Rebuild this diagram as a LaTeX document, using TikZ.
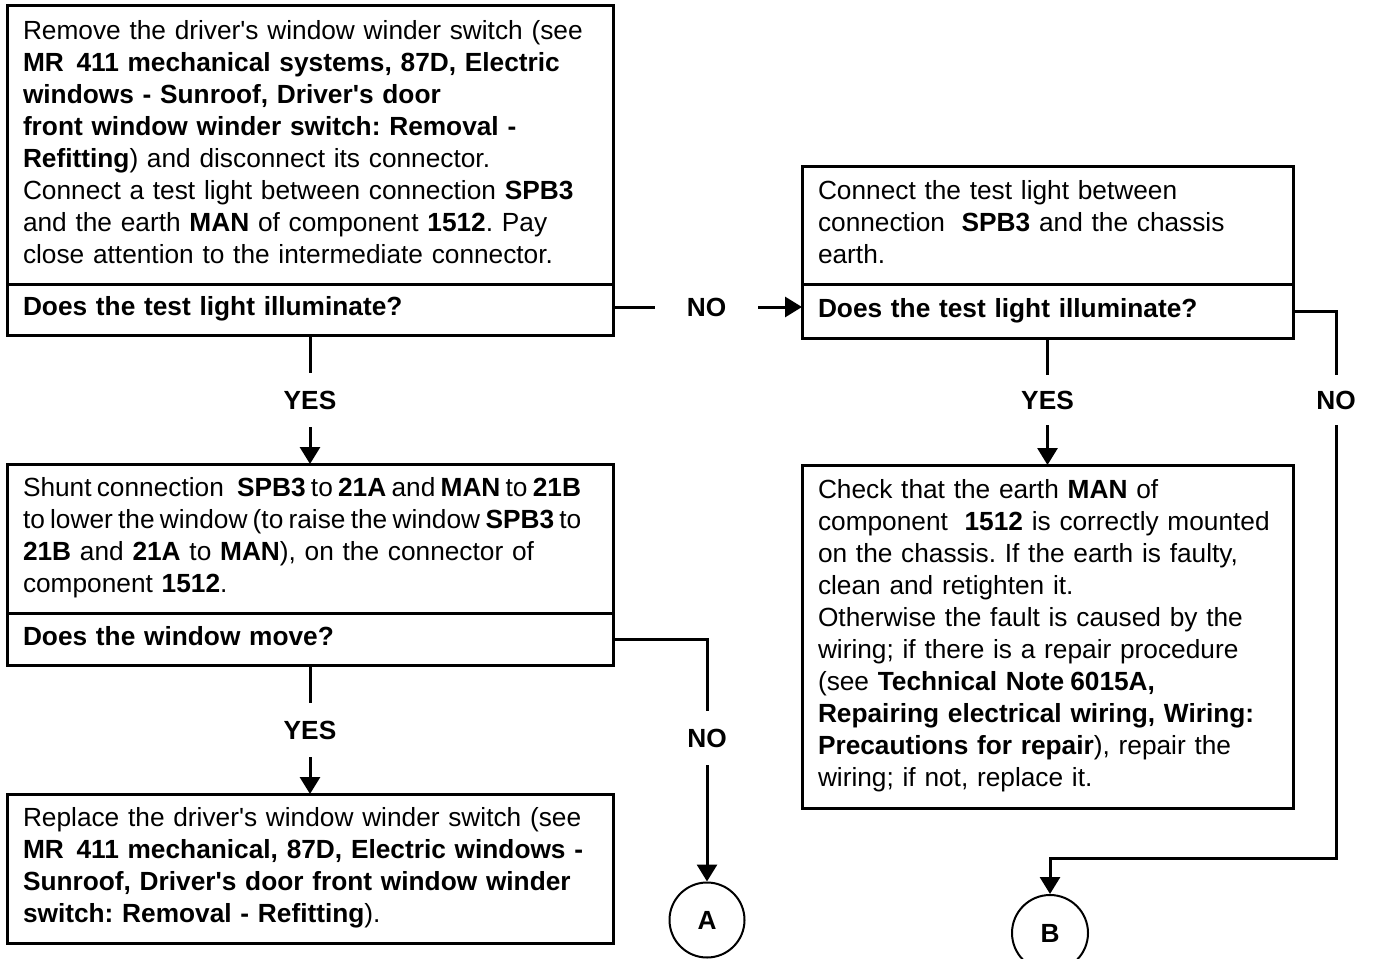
\documentclass[tikz,border=0pt]{standalone}
\usepackage{fontspec}
\setmainfont{Liberation Sans}
\usetikzlibrary{arrows.meta}
\newcommand{\qs}{\textquotesingle}
% a line set with close word spacing, kept unbroken
\newcommand{\tightline}[1]{\mbox{\spaceskip=0.2em\relax #1}}
\begin{document}
\frenchspacing
\begin{tikzpicture}[x=0.75pt,y=-0.75pt,
  txt/.style={font=\fontsize{19.7}{24}\selectfont},
  box/.style={txt, draw, line width=2.25pt, outer sep=0pt, anchor=north west,
    align=left, inner xsep=12pt, inner ysep=0pt},
  wide/.style={text width=430.5pt},
  narrow/.style={text width=344.25pt},
  lbl/.style={font=\fontsize{19.7}{24}\selectfont\bfseries, inner sep=0pt},
  conn/.style={line width=2.25pt},
  arr/.style={conn, -{Triangle[length=12.75pt,width=15pt]}},
  tag/.style={draw, circle, line width=1.5pt, inner sep=0pt,
    font=\fontsize{19.7}{24}\selectfont\bfseries}]
\useasboundingbox (0,0) rectangle (1373,959);

% left column: first test
\node[box, wide, minimum height=208.5pt] (b1) at (7,6) {\strut Remove the driver\qs s window winder switch (see\\
\textbf{MR\hspace{0.15em} 411 mechanical systems, 87D, Electric}\\
\textbf{windows - Sunroof, Driver\qs s door}\\
\textbf{front window winder switch: Removal -}\\
\textbf{Refitting}) and disconnect its connector.\\
Connect a test light between connection \textbf{SPB3}\\
and the earth \textbf{MAN} of component \textbf{1512}. Pay\\
close attention to the intermediate connector.\strut};
\node[box, wide, minimum height=38.25pt] (q1) at (b1.south west) {\strut\textbf{Does the test light illuminate?}};

% left column: shunt test
\node[box, wide, minimum height=111.75pt] (b4) at (7,464) {\strut\tightline{Shunt connection\hspace{0.3em} \textbf{SPB3} to \textbf{21A} and \textbf{MAN} to \textbf{21B}}\\
\tightline{to lower the window (to raise the window \textbf{SPB3} to}\\
\textbf{21B} and \textbf{21A} to \textbf{MAN}), on the connector of\\
component \textbf{1512}.\strut};
\node[box, wide, minimum height=39pt] (q4) at (b4.south west) {\strut\textbf{Does the window move?}};

% left column: replacement
\node[box, wide, minimum height=111.75pt] (b5) at (7,794) {\strut Replace the driver\qs s window winder switch (see\\
\textbf{MR\hspace{0.15em} 411 mechanical, 87D, Electric windows -}\\
\textbf{Sunroof, Driver\qs s door front window winder}\\
\textbf{switch: Removal - Refitting}).\strut};

% right column: chassis earth test
\node[box, narrow, minimum height=87.75pt] (b2) at (802,167) {\strut Connect the test light between\\
connection\hspace{0.3em} \textbf{SPB3} and the chassis\\
earth.\strut};
\node[box, narrow, minimum height=40.5pt] (q2) at (b2.south west) {\strut\textbf{Does the test light illuminate?}};

% right column: earth check
\node[box, narrow, minimum height=257.25pt] (b3) at (802,465) {\strut Check that the earth \textbf{MAN} of\\
component\hspace{0.3em} \textbf{1512} is correctly mounted\\
on the chassis. If the earth is faulty,\\
clean and retighten it.\\
Otherwise the fault is caused by the\\
wiring; if there is a repair procedure\\
(see \textbf{Technical Note\hspace{-0.1em} 6015A,}\\
\textbf{Repairing electrical wiring, Wiring:}\\
\textbf{Precautions for repair}), repair the\\
wiring; if not, replace it.\strut};

% branch labels
\node[lbl, minimum height=40.5pt] (y1) at (310,400) {YES};
\node[lbl, minimum width=77.25pt] (n1) at (706.5,307) {NO};
\node[lbl, minimum height=37.5pt] (y2) at (1047.5,400) {YES};
\node[lbl, minimum height=37.5pt] (n2) at (1336,400) {NO};
\node[lbl, minimum height=40.5pt] (y3) at (310,730) {YES};
\node[lbl, minimum height=40.5pt] (n3) at (707,738) {NO};

% off-page connectors
\node[tag, minimum size=56.25pt] (A) at (707,920) {A};
\node[tag, minimum size=57pt] (B) at (1050,933) {B};
\coordinate (turnB) at (1336,858);

% connectors
\draw[conn] (q1.south) -- (y1.north);
\draw[arr] (y1.south) -- (b4.north);
\draw[conn] (q1.east |- n1) -- (n1.west);
\draw[arr] (n1.east) -- (n1.east -| q2.west);
\draw[conn] (q2.south) -- (y2.north);
\draw[arr] (y2.south) -- (b3.north);
\draw[conn] (q2.east) -| (n2.north);
\draw[arr] (n2.south) -- (turnB) -| (B.north);
\draw[conn] (q4.south) -- (y3.north);
\draw[arr] (y3.south) -- (b5.north);
\draw[conn] (q4.east) -| (n3.north);
\draw[arr] (n3.south) -- (A.north);
\end{tikzpicture}
\end{document}
